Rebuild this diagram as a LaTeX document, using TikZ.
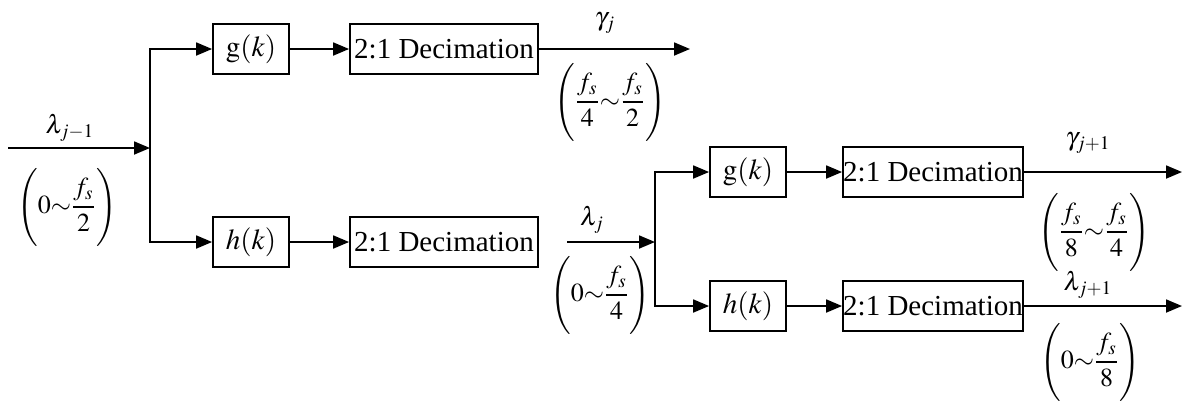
\documentclass[tikz,border=0pt]{standalone}
\usepackage{mathptmx}
\usepackage{fontspec}
\setmainfont{Liberation Serif}
\usetikzlibrary{arrows.meta}
\begin{document}
\begin{tikzpicture}[x=0.5pt,y=-0.5pt,
  blk/.style={draw,line width=0.9pt,inner sep=0pt,minimum height=25pt,font=\fontsize{14.5}{16}\selectfont},
  fbox/.style={blk,minimum width=38pt},
  dbox/.style={blk,minimum width=94pt},
  dboxs/.style={blk,minimum width=90pt},
  sig/.style={line width=0.9pt,-{Triangle[length=8pt,width=6.5pt]}},
  wire/.style={line width=0.9pt},
  lab/.style={font=\fontsize{13}{15}\selectfont,inner sep=0pt},
  band/.style={font=\fontsize{13}{15}\selectfont,inner sep=0pt}]
\useasboundingbox (0,0) rectangle (1188,403);
% first stage
\coordinate (in) at (8,148);
\coordinate (s1) at (150,148);
\node[fbox] (g1) at (251,49) {$\mathrm{g}(k)$};
\node[dbox] (d1) at (444,49) {2:1 Decimation};
\node[fbox] (h1) at (251,242) {$h(k)$};
\node[dbox] (d2) at (444,242) {2:1 Decimation};
\coordinate (o1) at (690,49);
\coordinate (m1) at (567,242);
\coordinate (s2) at (655,242);
% second stage
\node[fbox] (g2) at (748,172) {$\mathrm{g}(k)$};
\node[dboxs] (d3) at (933,172) {2:1 Decimation};
\node[fbox] (h2) at (748,306) {$h(k)$};
\node[dboxs] (d4) at (933,306) {2:1 Decimation};
\coordinate (o3) at (1182,172);
\coordinate (o4) at (1182,306);
% connectors
\draw[sig] (in) -- (s1);
\draw[sig] (s1) |- (g1.west);
\draw[sig] (s1) |- (h1.west);
\draw[sig] (g1) -- (d1);
\draw[sig] (h1) -- (d2);
\draw[sig] (d1.east) -- (o1);
\draw[sig] (m1) -- (s2);
\draw[sig] (s2) |- (g2.west);
\draw[sig] (s2) |- (h2.west);
\draw[sig] (g2) -- (d3);
\draw[sig] (h2) -- (d4);
\draw[sig] (d3.east) -- (o3);
\draw[sig] (d4.east) -- (o4);
% labels
\node[lab] (l0) at (70,128) {$\lambda_{j-1}$};
\node[band] (b0) at (67,207) {$\Bigg(0{\sim}\displaystyle\frac{f_s}{2}\Bigg)$};
\node[lab] (l1) at (605,23) {$\gamma_{j}$};
\node[band] (b1) at (610,102) {$\Bigg(\displaystyle\frac{f_s}{4}{\sim}\frac{f_s}{2}\Bigg)$};
\node[lab] (l2) at (592,220) {$\lambda_{j}$};
\node[band] (b2) at (600,295) {$\Bigg(0{\sim}\displaystyle\frac{f_s}{4}\Bigg)$};
\node[lab] (l3) at (1088,143) {$\gamma_{j+1}$};
\node[band] (b3) at (1094,232) {$\Bigg(\displaystyle\frac{f_s}{8}{\sim}\frac{f_s}{4}\Bigg)$};
\node[lab] (l4) at (1088,285) {$\lambda_{j+1}$};
\node[band] (b4) at (1090,362) {$\Bigg(0{\sim}\displaystyle\frac{f_s}{8}\Bigg)$};
\end{tikzpicture}
\end{document}
